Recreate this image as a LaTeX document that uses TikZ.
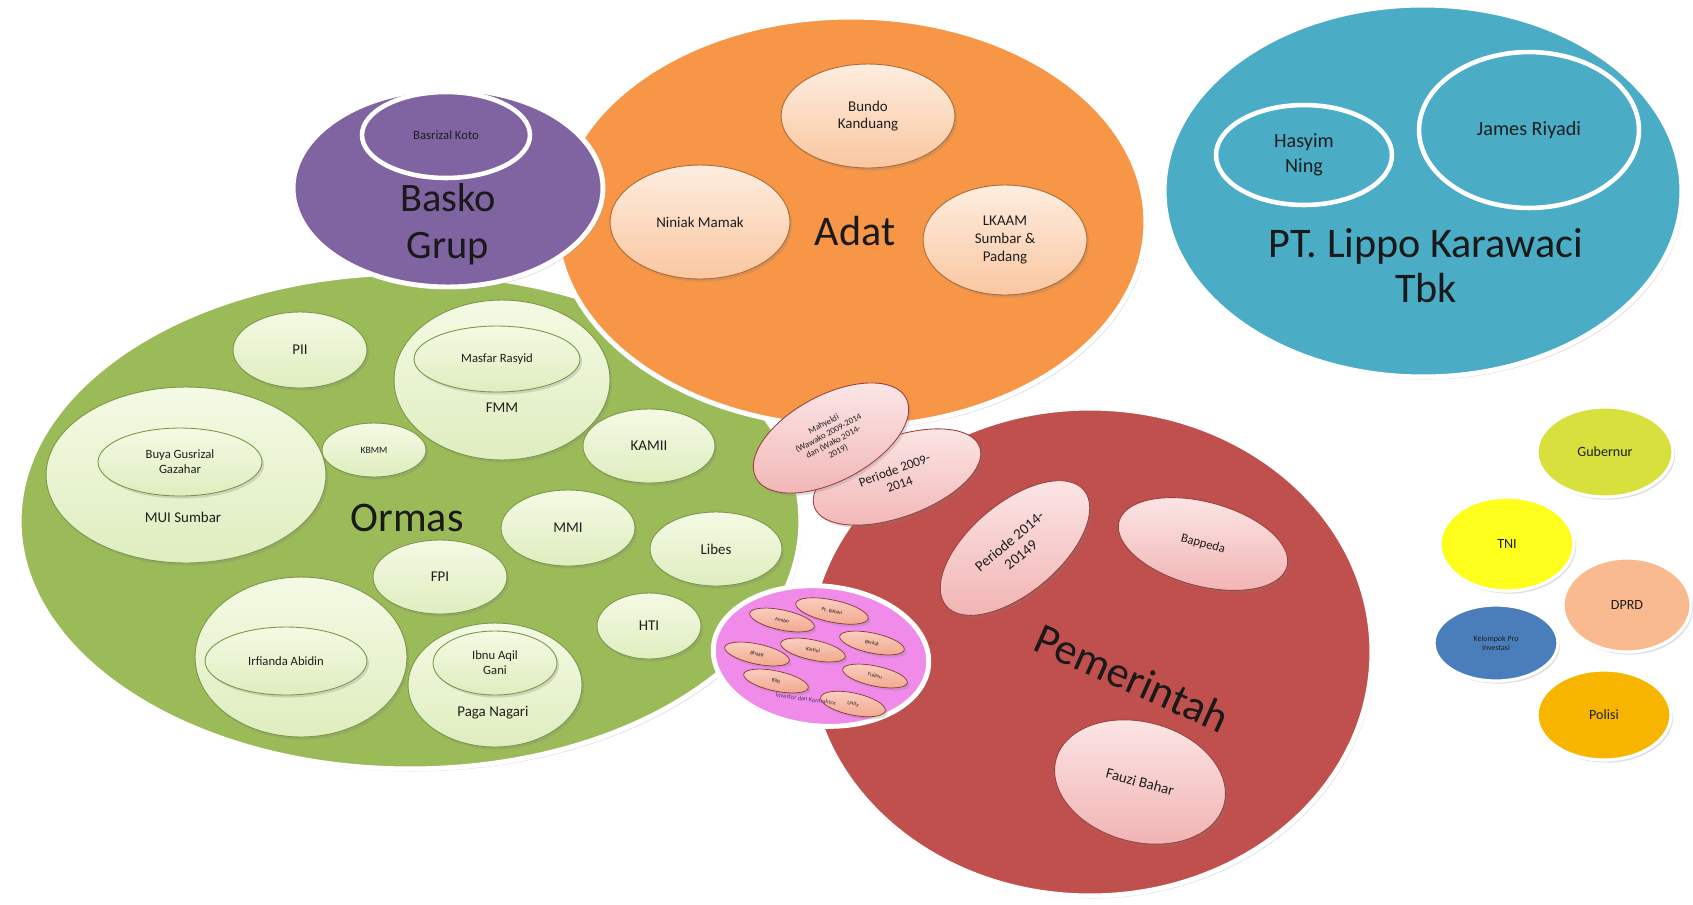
\documentclass[tikz,border=0pt]{standalone}
\usepackage{fontspec}
\setmainfont{Carlito}
\usetikzlibrary{shapes.geometric,shadows}

\definecolor{hijau}{HTML}{9BBB59}
\definecolor{jingga}{HTML}{F79646}
\definecolor{ungu}{HTML}{8064A2}
\definecolor{biru}{HTML}{4BACC6}
\definecolor{merah}{HTML}{C0504D}
\definecolor{magentamuda}{HTML}{F08BEA}
\definecolor{hijaumuda}{HTML}{F4FAE4}
\definecolor{hijaumuda2}{HTML}{DFEDBF}
\definecolor{krem}{HTML}{FDEDE0}
\definecolor{krem2}{HTML}{FAC7A0}
\definecolor{merahmuda}{HTML}{FCE8E8}
\definecolor{merahmuda2}{HTML}{F2B5B5}
\definecolor{salem}{HTML}{FAD0C2}
\definecolor{salem2}{HTML}{F2A88F}
\definecolor{kuninghijau}{HTML}{D7E03C}
\definecolor{kuning}{HTML}{FFFF1E}
\definecolor{persik}{HTML}{F9BA8F}
\definecolor{birutua}{HTML}{4A7EBB}
\definecolor{oranye}{HTML}{F7B500}
\definecolor{teks}{HTML}{1E1E1E}

\tikzset{
  sz/.style 2 args={minimum width=#1*0.04cm, minimum height=#2*0.04cm},
  bayang/.style={drop shadow={opacity=0.25, shadow xshift=1.2pt, shadow yshift=-1.5pt}},
  kelompok/.style={ellipse, inner sep=0pt, draw=white, line width=2.8pt, fill=#1, bayang},
  cincin/.style={ellipse, inner sep=0pt, draw=white, line width=2.6pt, align=center},
  anggota/.style={ellipse, inner sep=0pt, align=center, line width=0.5pt, bayang},
  ijo/.style={anggota, top color=hijaumuda, bottom color=hijaumuda2, draw=hijau!80!black},
  oren/.style={anggota, top color=krem, bottom color=krem2, draw=jingga!70!black},
  pink/.style={anggota, top color=merahmuda, bottom color=merahmuda2, draw=merah!80!black},
  mitra/.style={anggota, top color=salem, bottom color=salem2, draw=merah!70!black, line width=0.4pt,
    font=\fontsize{3}{3.5}\selectfont},
  bulat/.style={ellipse, inner sep=0pt, align=center, draw=white, line width=1.8pt, fill=#1,
    bayang, font=\fontsize{8}{9.5}\selectfont},
  judul/.style={font=\fontsize{24}{26}\selectfont, align=center, text=black!90},
  kecil/.style={font=\fontsize{8.5}{10}\selectfont, align=center},
  kecil2/.style={font=\fontsize{7.2}{8.5}\selectfont, align=center}
}

\begin{document}
\begin{tikzpicture}[x=0.02cm, y=-0.02cm, every node/.append style={text=teks}]
  \fill[white] (0,0) rectangle (1693,904);
  \useasboundingbox (0,0) rectangle (1693,904);

  % Ormas
  \node[kelompok=hijau, sz={391}{248}] (ormas) at (410,521) {};
  \node[ijo, sz={67}{38}, kecil] (pii) at (300,350) {PII};
  \node[ijo, sz={140}{88}] (mui) at (186,475) {};
  \node[ijo, sz={82}{34}, kecil2] (buya) at (180,462) {Buya Gusrizal\\Gazahar};
  \node[kecil] (muilbl) at (183,517) {MUI Sumbar};
  \node[ijo, sz={52}{27}, font=\fontsize{5.5}{6}\selectfont] (kbmm) at (374,450) {KBMM};
  \node[ijo, sz={108}{80}] (fmm) at (502,380) {};
  \node[ijo, sz={83}{33}, kecil2] (masfar) at (497,359) {Masfar Rasyid};
  \node[kecil] (fmmlbl) at (502,408) {FMM};
  \node[ijo, sz={66}{37}, kecil] (kamii) at (649,446) {KAMII};
  \node[ijo, sz={67}{38}, kecil] (mmi) at (568,528) {MMI};
  \node[ijo, sz={66}{37}, kecil] (libes) at (716,549) {Libes};
  \node[ijo, sz={67}{37}, kecil] (fpi) at (440,577) {FPI};
  \node[ijo, sz={106}{80}] (irfianda) at (301,657) {};
  \node[ijo, sz={81}{34}, kecil2] (irfiandain) at (286,661) {Irfianda Abidin};
  \node[ijo, sz={87}{62}] (paga) at (495,685) {};
  \node[ijo, sz={62}{32}, kecil2] (ibnu) at (495,663) {Ibnu Aqil\\Gani};
  \node[kecil] (pagalbl) at (493,713) {Paga Nagari};
  \node[ijo, sz={52}{33}, kecil] (hti) at (649,626) {HTI};
  \node[judul] (ormaslbl) at (407,518) {Ormas};

  % Adat
  \node[kelompok=jingga, sz={295}{205}] (adat) at (851,222) {};
  \node[oren, sz={87}{52}, kecil] (bundo) at (868,116) {Bundo\\Kanduang};
  \node[oren, sz={90}{57}, kecil] (niniak) at (700,222) {Niniak Mamak};
  \node[oren, sz={82}{55}, kecil] (lkaam) at (1005,240) {LKAAM\\Sumbar \&\\Padang};
  \node[judul] (adatlbl) at (855,231) {Adat};

  % Basko Grup
  \node[kelompok=ungu, sz={155}{99}] (basko) at (448,188) {};
  \node[cincin, sz={84}{43}, kecil2] (basrizal) at (446,135) {Basrizal Koto};
  \node[judul, font=\fontsize{23}{27}\selectfont] (baskolbl) at (448,224) {Basko\\Grup};

  % PT. Lippo
  \node[kelompok=biru, sz={259}{186}] (lippo) at (1423,191) {};
  \node[cincin, sz={88}{50}, font=\fontsize{11.5}{14}\selectfont] (hasyim) at (1304,155) {Hasyim\\Ning};
  \node[cincin, sz={110}{78}, font=\fontsize{11.5}{14}\selectfont] (james) at (1529,130) {James Riyadi};
  \node[judul, font=\fontsize{24}{25.5}\selectfont] (lippolbl) at (1426,266) {PT. Lippo Karawaci\\Tbk};

  % Pemerintah
  \node[kelompok=merah, sz={282}{244}] (pemerintah) at (1090,652) {};
  \node[pink, sz={90}{45}, rotate=40, kecil] (periode2) at (1015,548) {Periode 2014-\\20149};
  \node[pink, sz={87}{42}, rotate=-15, kecil2] (bappeda) at (1203,544) {Bappeda};
  \node[pink, sz={87}{60}, rotate=-15, kecil] (fauzi) at (1140,782) {Fauzi Bahar};
  \node[judul, rotate=-24, font=\fontsize{25}{27}\selectfont] (pemlbl) at (1132,678) {Pemerintah};
  \node[pink, sz={88}{40}, rotate=20, font=\fontsize{7.5}{8.5}\selectfont] (periode1) at (897,477) {Periode 2009-\\2014};
  \node[pink, sz={85}{43}, rotate=28, font=\fontsize{5}{5.8}\selectfont] (mahyeldi) at (831,438)
    {Mahyeldi\\(Wawako 2009-2014\\dan (Wako 2014-\\2019)};

  % mitra
  \node[kelompok=magentamuda, sz={108}{70}, rotate=-5] (mitra) at (821,656) {};
  \node[mitra, sz={33}{10}, rotate=-12] (m1) at (782,620) {Jumbo};
  \node[mitra, sz={37}{11}, rotate=-12] (m2) at (832,611) {Pt. Bahari};
  \node[mitra, sz={33}{10}, rotate=-12] (m3) at (872,643) {Berkat};
  \node[mitra, sz={33}{10}, rotate=-12] (m4) at (813,650) {Kartini};
  \node[mitra, sz={33}{10}, rotate=-12] (m5) at (757,654) {Bhakti};
  \node[mitra, sz={33}{10}, rotate=-12] (m6) at (875,676) {Fujitsu};
  \node[mitra, sz={33}{10}, rotate=-12] (m7) at (776,681) {Bilfi};
  \node[mitra, sz={33}{11}, rotate=-12] (m8) at (853,704) {Unity};
  \node[rotate=-8, font=\fontsize{3.6}{4}\selectfont, text=ungu!60!black] (mitralbl) at (806,699) {Investor dan Kontraktor};

  % lain-lain
  \node[bulat=kuninghijau, sz={68}{45}] (gubernur) at (1605,452) {Gubernur};
  \node[bulat=kuning, sz={67}{47}] (tni) at (1507,544) {TNI};
  \node[bulat=persik, sz={64}{47}] (dprd) at (1627,605) {DPRD};
  \node[bulat=birutua, sz={62}{38}, font=\fontsize{4.5}{5}\selectfont] (investasi) at (1496,643) {Kelompok Pro\\Investasi};
  \node[bulat=oranye, sz={67}{45}] (polisi) at (1604,715) {Polisi};
\end{tikzpicture}
\end{document}
